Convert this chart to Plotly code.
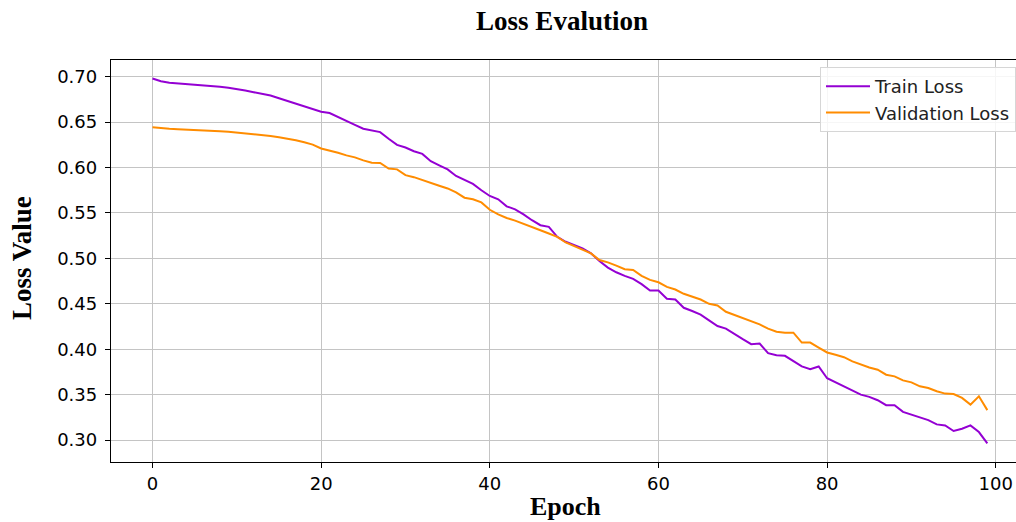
import plotly.graph_objects as go

epochs = list(range(100))

train_loss = [
    0.698, 0.695, 0.6933, 0.6926, 0.6919, 0.6915, 0.6907, 0.6900, 0.6889, 0.6878,
    0.6867, 0.6848, 0.6830, 0.6811, 0.6793, 0.6763, 0.6733, 0.6704, 0.6674, 0.6644,
    0.6615, 0.6600, 0.6555, 0.6507, 0.6470, 0.6427, 0.6410, 0.6390, 0.6317, 0.6250,
    0.6220, 0.6180, 0.6150, 0.6070, 0.6024, 0.5980, 0.5907, 0.5860, 0.5820, 0.5750,
    0.5687, 0.5650, 0.5573, 0.5540, 0.5485, 0.5420, 0.5365, 0.5347, 0.5237, 0.5183,
    0.5146, 0.5110, 0.5055, 0.4970, 0.4898, 0.4847, 0.4807, 0.4774, 0.4716, 0.4646,
    0.4645, 0.4555, 0.4547, 0.4456, 0.4420, 0.4380, 0.4318, 0.4255, 0.4226, 0.4164,
    0.4110, 0.4055, 0.4062, 0.3956, 0.3934, 0.3927, 0.3865, 0.3810, 0.3780, 0.3810,
    0.3680, 0.3635, 0.3591, 0.3537, 0.3500, 0.3475, 0.3438, 0.3383, 0.3383, 0.3310,
    0.3281, 0.3245, 0.3219, 0.3172, 0.3161, 0.3099, 0.3124, 0.3161, 0.3088, 0.2964,
]

val_loss = [
    0.6444, 0.6433, 0.6426, 0.6422, 0.6419, 0.6415, 0.6411, 0.6407, 0.6400, 0.6393,
    0.6385, 0.6378, 0.6370, 0.6359, 0.6348, 0.6333, 0.6319, 0.6300, 0.6278, 0.6252,
    0.6210, 0.6189, 0.6163, 0.6134, 0.6112, 0.6079, 0.6053, 0.6050, 0.5989, 0.5980,
    0.5916, 0.5894, 0.5861, 0.5825, 0.5800, 0.5770, 0.5726, 0.5668, 0.5650, 0.5616,
    0.5535, 0.5485, 0.5445, 0.5416, 0.5383, 0.5347, 0.5310, 0.5274, 0.5237, 0.5175,
    0.5135, 0.5102, 0.5055, 0.4982, 0.4956, 0.4920, 0.4880, 0.4872, 0.4807, 0.4763,
    0.4737, 0.4686, 0.4657, 0.4610, 0.4577, 0.4547, 0.4500, 0.4482, 0.4412, 0.4376,
    0.4340, 0.4303, 0.4274, 0.4226, 0.4193, 0.4182, 0.4182, 0.4073, 0.4073, 0.4018,
    0.3964, 0.3938, 0.3912, 0.3865, 0.3828, 0.3799, 0.3774, 0.3719, 0.3701, 0.3657,
    0.3635, 0.3591, 0.3573, 0.3537, 0.3511, 0.3507, 0.3464, 0.3390, 0.3482, 0.3329,
]

x_ticks = [0, 20, 40, 60, 80, 100]
y_ticks = [0.30, 0.35, 0.40, 0.45, 0.50, 0.55, 0.60, 0.65, 0.70]
y_tick_labels = ["0.30", "0.35", "0.40", "0.45", "0.50", "0.55", "0.60", "0.65", "0.70"]

fig = go.Figure()
fig.add_trace(go.Scatter(x=epochs, y=train_loss, mode="lines", name="Train Loss",
                         line=dict(color="#9400D3", width=2)))
fig.add_trace(go.Scatter(x=epochs, y=val_loss, mode="lines", name="Validation Loss",
                         line=dict(color="#FF8C00", width=2)))

tick_font = dict(family="DejaVu Sans", size=18, color="black")
serif_bold = "Liberation Serif"

W, H = 1016, 522
fig.update_layout(
    width=W, height=H,
    margin=dict(l=111, r=0, t=60, b=60, autoexpand=False),
    paper_bgcolor="white", plot_bgcolor="white",
    showlegend=True,
    title=dict(text="<b>Loss Evalution</b>", x=562 / W, xanchor="center",
               y=1 - 21 / H, yanchor="middle",
               font=dict(family=serif_bold, size=27, color="black")),
    xaxis=dict(range=[-4.92, 102.4], tickvals=x_ticks, ticks="outside", ticklen=5,
               tickcolor="black", tickfont=tick_font, showgrid=True, gridcolor="#c4c4c4",
               gridwidth=1, showline=True, linecolor="black", linewidth=1.3, mirror=True,
               zeroline=False, automargin=False),
    yaxis=dict(range=[0.2758, 0.7184], tickvals=y_ticks, ticktext=y_tick_labels,
               ticks="outside", ticklen=5, tickcolor="black", tickfont=tick_font,
               ticklabelstandoff=4,
               showgrid=True, gridcolor="#c4c4c4", gridwidth=1, showline=True,
               linecolor="black", linewidth=1.3, mirror=False, zeroline=False,
               automargin=False),
    legend=dict(x=(820 - 111) / 905, y=(462 - 67) / 402, xanchor="left", yanchor="top",
                bgcolor="rgba(255,255,255,0.85)", bordercolor="#d6d6d6", borderwidth=1,
                itemwidth=44,
                font=dict(family="DejaVu Sans", size=18, color="#222222")),
    annotations=[
        dict(text="<b>Epoch</b>", xref="paper", yref="paper", x=(565 - 111) / 905,
             y=-(506 - 462) / 402, xanchor="center", yanchor="middle", showarrow=False,
             font=dict(family=serif_bold, size=26, color="black")),
        dict(text="<b>Loss Value</b>", xref="paper", yref="paper", x=-(111 - 22) / 905,
             y=(462 - 258) / 402, xanchor="center", yanchor="middle", showarrow=False,
             textangle=-90, font=dict(family=serif_bold, size=27, color="black")),
    ],
)

fig.write_html("out.html",
               config={"displayModeBar": False},
               post_script="document.body.style.margin='0';document.body.style.overflow='hidden';")
